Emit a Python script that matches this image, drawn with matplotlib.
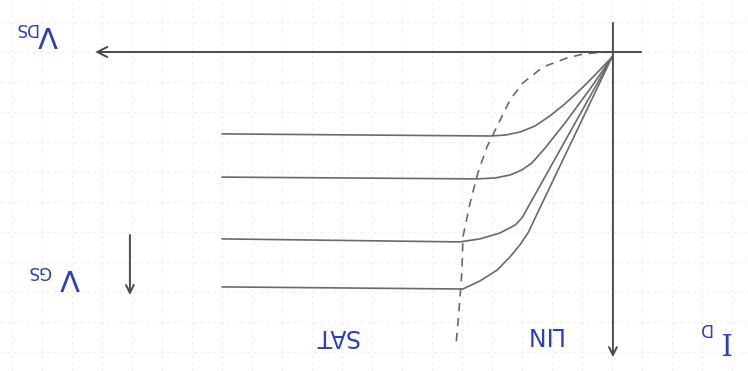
import matplotlib
matplotlib.use("Agg")
import matplotlib.pyplot as plt

# ---- data (units: one grid square), origin at the axes crossing ----
# output characteristic curves: V_DS (negative, to the left) vs I_D (negative, downward)
c1_vds = [-13.0, -4.07, -3.57, -3.07, -2.57, -2.07, -1.57, -1.07, -0.57, 0.0]
c1_id  = [-2.73, -2.80, -2.77, -2.67, -2.47, -2.13, -1.73, -1.27, -0.77, -0.17]

c2_vds = [-13.0, -4.50, -3.90, -3.40, -3.00, -2.67, -2.23, -1.57, -0.73, 0.0]
c2_id  = [-4.17, -4.23, -4.20, -4.10, -3.93, -3.70, -3.20, -2.37, -1.23, -0.17]

c3_vds = [-13.0, -5.07, -4.40, -3.73, -3.23, -3.00, 0.0]
c3_id  = [-6.23, -6.33, -6.23, -6.03, -5.77, -5.53, -0.17]

c4_vds = [-13.0, -4.97, -4.40, -3.83, -3.40, -3.07, -2.80, 0.0]
c4_id  = [-7.83, -7.90, -7.63, -7.27, -6.83, -6.43, -6.03, -0.17]

curves = [(c1_vds, c1_id), (c2_vds, c2_id), (c3_vds, c3_id), (c4_vds, c4_id)]

# boundary LIN / SAT (dashed)
bd_vds = [0.0, -0.57, -0.97, -1.50, -2.30, -2.97, -3.40, -3.73, -4.17, -4.47,
          -4.73, -4.97, -5.00, -5.10, -5.20]
bd_id  = [0.0, -0.03, -0.07, -0.20, -0.50, -1.03, -1.60, -2.27, -3.17, -4.03,
          -5.03, -6.17, -7.27, -8.60, -9.77]

# axes extents
vds_axis = (0.97, -17.23)
id_axis = (0.97, -10.17)
vgs_arrow_x = -16.07
vgs_arrow = (-6.1, -8.1)

labels_txt = ["V", "DS", "V", "GS", "I", "D", "LIN", "SAT"]

# ---- figure ----
fig = plt.figure(figsize=(7.48, 3.71), dpi=100)
ax = fig.add_axes([0, 0, 1, 1])
ax.set_xlim(-20.4, 4.533)
ax.set_ylim(-10.633, 1.733)
fig.patch.set_facecolor("white")

# faint graph-paper grid
for gx in range(-20, 5):
    ax.axvline(gx, color="#ebebeb", lw=0.8, ls=(0, (2, 4)), zorder=0)
for gy in range(-10, 2):
    ax.axhline(gy, color="#ebebeb", lw=0.8, ls=(0, (2, 4)), zorder=0)

axis_col = "#4a4a4a"
curve_col = "#6a6a6a"

# axes with arrows
ax.annotate("", xy=(vds_axis[1], 0), xytext=(vds_axis[0], 0),
            arrowprops=dict(arrowstyle="->", lw=1.4, color=axis_col,
                            mutation_scale=18, shrinkA=0, shrinkB=0))
ax.annotate("", xy=(0.03, id_axis[1]), xytext=(0.03, id_axis[0]),
            arrowprops=dict(arrowstyle="->", lw=1.4, color=axis_col,
                            mutation_scale=14, shrinkA=0, shrinkB=0))
ax.annotate("", xy=(vgs_arrow_x, vgs_arrow[1]), xytext=(vgs_arrow_x, vgs_arrow[0]),
            arrowprops=dict(arrowstyle="->", lw=1.4, color=axis_col,
                            mutation_scale=14, shrinkA=0, shrinkB=0))

for vx, iy in curves:
    ax.plot(vx, iy, color=curve_col, lw=1.2, solid_capstyle="round",
            solid_joinstyle="round")

ax.plot(bd_vds, bd_id, color=curve_col, lw=1.2, ls=(0, (5, 4)))

blue = "#2b3fb5"
fam = ["DejaVu Sans"]
# labels (drawn upside down like the reference)
ax.text(-18.8, 0.6, labels_txt[0], rotation=180, color=blue, fontsize=21,
        ha="center", va="center", family=fam)
ax.text(-19.55, 0.8, labels_txt[1], rotation=180, color=blue, fontsize=12,
        ha="center", va="center", family=fam)
ax.text(-18.07, -7.5, labels_txt[2], rotation=180, color=blue, fontsize=21,
        ha="center", va="center", family=fam)
ax.text(-19.07, -7.3, labels_txt[3], rotation=180, color=blue, fontsize=12,
        ha="center", va="center", family=fam)
ax.text(3.77, -9.6, labels_txt[4], rotation=180, color=blue, fontsize=21,
        ha="center", va="center", family=["DejaVu Serif"])
ax.text(3.1, -9.2, labels_txt[5], rotation=180, color=blue, fontsize=12,
        ha="center", va="center", family=fam)
ax.text(-2.3, -9.4, labels_txt[6], rotation=180, color=blue, fontsize=17,
        ha="center", va="center", family=fam)
ax.text(-9.2, -9.47, labels_txt[7], rotation=180, color=blue, fontsize=17,
        ha="center", va="center", family=fam)

ax.set_axis_off()
fig.savefig("out.png", dpi=100, facecolor="white")
